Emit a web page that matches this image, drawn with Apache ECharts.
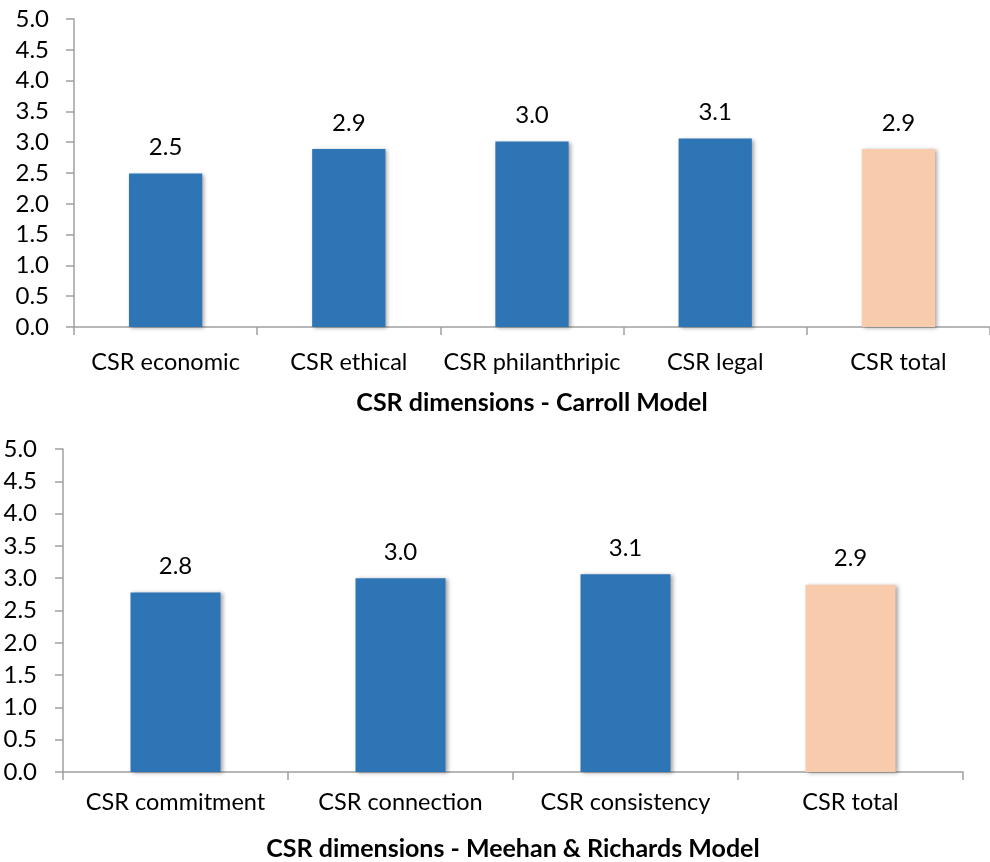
<!DOCTYPE html>
<html>
<head>
<meta charset="utf-8">
<script src="https://cdn.jsdelivr.net/npm/echarts@6/dist/echarts.min.js"></script>
<style>
html,body{margin:0;padding:0;background:#fff;}
#chart{width:990px;height:862px;}
</style>
</head>
<body>
<div id="chart"></div>
<script>
// ---- data ----
var carrollCategories = ['CSR economic', 'CSR ethical', 'CSR philanthripic', 'CSR legal', 'CSR total'];
var carrollValues = [2.49, 2.89, 3.01, 3.06, 2.89];
var meehanCategories = ['CSR commitment', 'CSR connection', 'CSR consistency', 'CSR total'];
var meehanValues = [2.78, 3.0, 3.06, 2.9];
var yTickLabels = ['0.0','0.5','1.0','1.5','2.0','2.5','3.0','3.5','4.0','4.5','5.0'];
var carrollTitle = 'CSR dimensions - Carroll Model';
var meehanTitle = 'CSR dimensions - Meehan & Richards Model';

var FONT = 'Lato';
var BLUE = '#2E75B6';
var PEACH = '#F8CBAD';
var AXIS = '#A0A0A0';

function itemsFor(values, cats) {
  return values.map(function (v, i) {
    return {
      value: v,
      itemStyle: { color: cats[i] === 'CSR total' ? PEACH : BLUE }
    };
  });
}

function xAxisFor(idx, cats, title, gap, margin) {
  return {
    type: 'category', gridIndex: idx, data: cats,
    axisLine: { show: true, lineStyle: { color: AXIS, width: 1.5 } },
    axisTick: { show: true, length: 8, lineStyle: { color: AXIS, width: 1.5 }, alignWithLabel: false },
    axisLabel: { color: '#000', fontFamily: FONT, fontSize: 23.5, margin: margin, interval: 0 },
    splitLine: { show: false },
    name: title, nameLocation: 'middle', nameGap: gap,
    nameTextStyle: { color: '#000', fontFamily: FONT, fontSize: 25, fontWeight: 'bold' }
  };
}
function yAxisFor(idx, margin) {
  return {
    type: 'value', gridIndex: idx, min: 0, max: 5, interval: 0.5,
    axisLine: { show: true, lineStyle: { color: AXIS, width: 1.5 } },
    axisTick: { show: true, length: 8, lineStyle: { color: AXIS, width: 1.5 } },
    axisLabel: {
      color: '#000', fontFamily: FONT, fontSize: 24, margin: margin,
      formatter: function (v) { return yTickLabels[Math.round(v / 0.5)]; }
    },
    splitLine: { show: false }
  };
}
function seriesFor(idx, values, cats) {
  return {
    type: 'bar', xAxisIndex: idx, yAxisIndex: idx,
    data: itemsFor(values, cats),
    barWidth: '40%',
    itemStyle: { shadowColor: 'rgba(0,0,0,0.35)', shadowBlur: 4, shadowOffsetX: 2, shadowOffsetY: 1 },
    label: {
      show: true, position: 'top', distance: 14,
      color: '#000', fontFamily: FONT, fontSize: 24,
      formatter: function (p) { return p.value.toFixed(1); }
    },
    animation: false
  };
}

var chart = echarts.init(document.getElementById('chart'));
chart.setOption({
  animation: false,
  grid: [
    { left: 74, top: 19, width: 925, height: 308 },
    { left: 63, top: 449, width: 900, height: 325 }
  ],
  xAxis: [
    xAxisFor(0, carrollCategories, carrollTitle, 63, 23),
    xAxisFor(1, meehanCategories, meehanTitle, 64, 18)
  ],
  yAxis: [ yAxisFor(0, 25), yAxisFor(1, 26) ],
  series: [
    seriesFor(0, carrollValues, carrollCategories),
    seriesFor(1, meehanValues, meehanCategories)
  ]
});
</script>
</body>
</html>
